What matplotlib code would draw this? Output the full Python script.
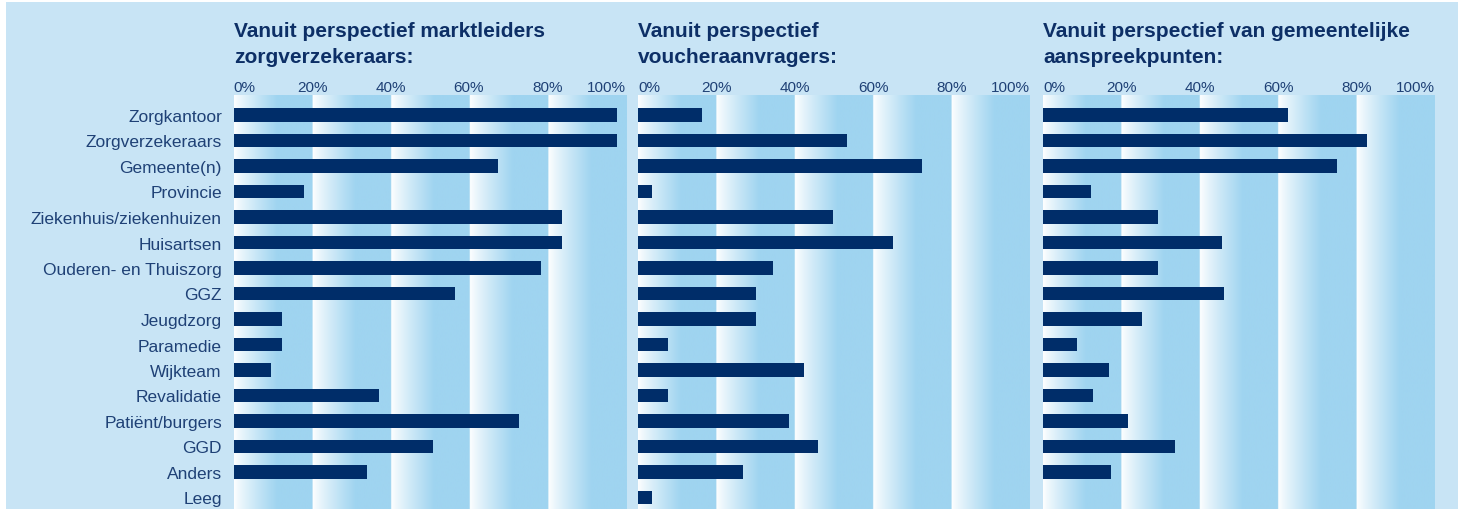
import numpy as np
import matplotlib
matplotlib.use("Agg")
import matplotlib.pyplot as plt
from matplotlib.patches import Rectangle

categories = ["Zorgkantoor", "Zorgverzekeraars", "Gemeente(n)", "Provincie",
              "Ziekenhuis/ziekenhuizen", "Huisartsen", "Ouderen- en Thuiszorg", "GGZ",
              "Jeugdzorg", "Paramedie", "Wijkteam", "Revalidatie", "Patiënt/burgers",
              "GGD", "Anders", "Leeg"]

titles = [("Vanuit perspectief marktleiders", "zorgverzekeraars:"),
          ("Vanuit perspectief", "voucheraanvragers:"),
          ("Vanuit perspectief van gemeentelijke", "aanspreekpunten:")]

marktleiders = [97.7, 97.7, 67.3, 17.9, 83.7, 83.7, 78.3, 56.4, 12.2, 12.2, 9.4, 37.0, 72.7, 50.8, 33.9, 0.0]
voucheraanvragers = [16.3, 53.3, 72.4, 3.6, 49.7, 65.1, 34.4, 30.1, 30.1, 7.6, 42.3, 7.6, 38.4, 45.9, 26.8, 3.6]
gemeentelijk = [62.5, 82.7, 75.0, 12.2, 29.3, 45.7, 29.3, 46.2, 25.3, 8.7, 16.8, 12.8, 21.7, 33.7, 17.3, 0.0]

tick_values = [0, 20, 40, 60, 80, 100]
tick_labels = ["0%", "20%", "40%", "60%", "80%", "100%"]

series = [marktleiders, voucheraanvragers, gemeentelijk]

W, H = 1461, 510
BG = "#c8e4f5"
BAND = np.array([0x9f, 0xd4, 0xf0]) / 255.0
BAR = "#002d69"
TITLE_C = "#0d2f66"
LABEL_C = "#1f4176"

fig = plt.figure(figsize=(W / 100, H / 100), dpi=100)
fig.patch.set_facecolor("white")
fig.add_artist(Rectangle((6 / W, 0), 1452 / W, 507 / H, transform=fig.transFigure,
                         facecolor=BG, edgecolor="none", zorder=-10))

panel_left = [233.7, 638, 1043]
panel_w = 392
top_px = 96
ax_bottom = 0
ax_height = (H - top_px) / H

# gradient image across 0..100
nx = 1000
xs = np.linspace(0, 100, nx, endpoint=False) + 0.05
frac = (xs % 20) / 20.0
t = np.clip(frac / 0.55, 0, 1)
t = t ** 0.85
img = np.zeros((1, nx, 3))
for c in range(3):
    img[0, :, c] = 1.0 * (1 - t) + BAND[c] * t

n = len(categories)
ypos = np.arange(n)
row_px = 25.5
first_center = 116
ytop = -(first_center - top_px) / row_px
ybot = (H - first_center) / row_px

for i, (vals, (t1, t2)) in enumerate(zip(series, titles)):
    ax = fig.add_axes([panel_left[i] / W, ax_bottom, panel_w / W, ax_height])
    ax.set_xlim(0, 100)
    ax.set_ylim(ybot, ytop)
    ax.imshow(img, extent=(0, 100, ybot, ytop), aspect="auto", zorder=0, interpolation="bilinear")
    ax.barh(ypos, vals, height=0.53, color=BAR, zorder=2)
    for s in ax.spines.values():
        s.set_visible(False)
    ax.set_xticks(tick_values)
    ax.set_xticklabels(tick_labels)
    ax.tick_params(axis="x", top=True, labeltop=True, bottom=False, labelbottom=False,
                   length=0, pad=1, labelsize=11, labelcolor=LABEL_C)
    lbls = ax.get_xticklabels()
    for lab in lbls:
        lab.set_fontfamily("Liberation Sans")
    lbls[0].set_ha("left")
    lbls[-1].set_ha("right")
    if i == 0:
        ax.set_yticks(ypos)
        ax.set_yticklabels(categories, fontfamily="Liberation Sans", fontsize=12.5, color=LABEL_C)
        ax.tick_params(axis="y", length=0, pad=8.5)
    else:
        ax.set_yticks([])
    fig.text(panel_left[i] / W, 1 - 36.7 / H, t1, fontsize=15, fontweight="bold",
             family="Liberation Sans", color=TITLE_C, va="baseline", ha="left")
    fig.text(panel_left[i] / W, 1 - 62.7 / H, t2, fontsize=15, fontweight="bold",
             family="Liberation Sans", color=TITLE_C, va="baseline", ha="left")

fig.savefig("out.png", dpi=100, facecolor=fig.get_facecolor())
